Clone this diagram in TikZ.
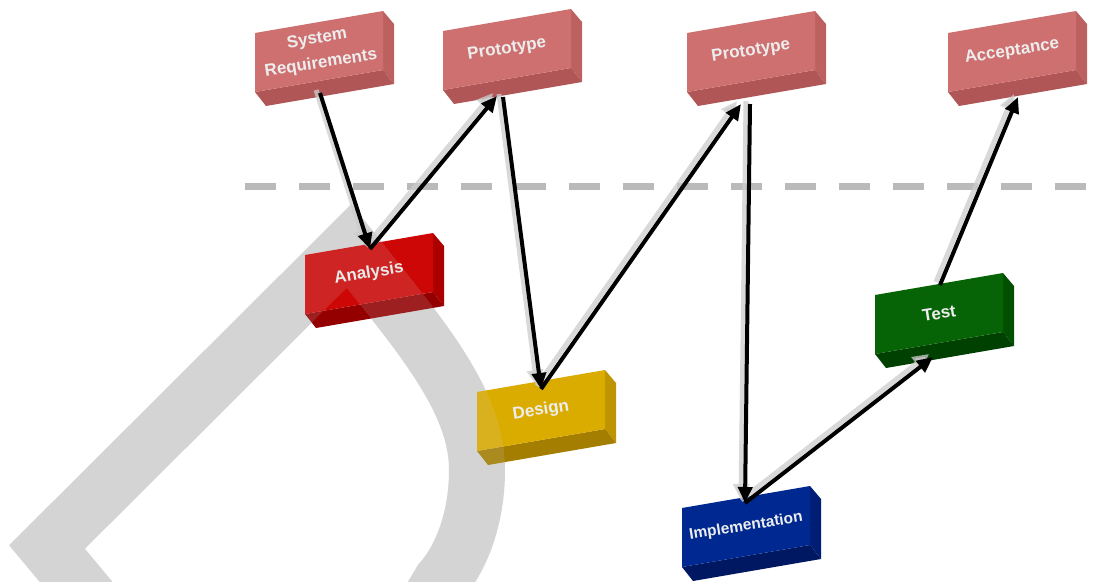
\documentclass[tikz,border=0pt]{standalone}
\usepackage{fontspec}
\setmainfont{Liberation Sans}
\usetikzlibrary{arrows.meta,calc}

% block colours: face, right side, underside
\definecolor{pinkF}{RGB}{206,112,112}
\definecolor{pinkS}{RGB}{188,96,96}
\definecolor{pinkB}{RGB}{176,86,86}
\definecolor{redF}{RGB}{205,6,6}
\definecolor{redS}{RGB}{172,0,0}
\definecolor{redB}{RGB}{148,0,0}
\definecolor{goldF}{RGB}{218,172,0}
\definecolor{goldS}{RGB}{190,148,0}
\definecolor{goldB}{RGB}{164,126,0}
\definecolor{navyF}{RGB}{0,40,145}
\definecolor{navyS}{RGB}{0,30,118}
\definecolor{navyB}{RGB}{0,24,98}
\definecolor{greenF}{RGB}{6,100,6}
\definecolor{greenS}{RGB}{0,80,0}
\definecolor{greenB}{RGB}{0,64,0}
\definecolor{bandgray}{RGB}{212,212,212}
\definecolor{guidegray}{RGB}{186,186,186}

\tikzset{
  lbl/.style={text=white!93!black, font=\bfseries\fontsize{17}{25}\selectfont,
              rotate=9, align=center, inner sep=0pt},
  flow/.style={line width=4pt, black, -{Triangle[length=16pt,width=14pt]}},
  shine/.style={line width=5pt, black!20, opacity=0.75,
                -{Triangle[length=16pt,width=16pt]},
                transform canvas={xshift=-4pt,yshift=3pt}},
  band/.style={line width=56pt, bandgray, line join=miter},
  guide/.style={line width=7pt, guidegray, dash pattern=on 31pt off 23pt},
}

% a tilted block: #1 name, #2 top-left corner, #3 face, #4 side, #5 underside, #6 label
\newcommand{\cuboid}[6]{%
  \coordinate (#1-tl) at #2;
  \coordinate (#1-tr) at ($(#1-tl)+(128,-22)$);
  \coordinate (#1-br) at ($(#1-tr)+(0,59)$);
  \coordinate (#1-bl) at ($(#1-tl)+(0,59)$);
  \fill[#4] (#1-tr) -- ($(#1-tr)+(11,13)$) -- ($(#1-br)+(11,14)$) -- (#1-br) -- cycle;
  \fill[#5] (#1-bl) -- (#1-br) -- ($(#1-br)+(11,14)$) -- ($(#1-bl)+(11,14)$) -- cycle;
  \fill[#3] (#1-tl) -- (#1-tr) -- (#1-br) -- (#1-bl) -- cycle;
  \node[lbl] (#1) at ($(#1-tl)!0.5!(#1-br)$) {#6};
}

\newcommand{\bandpath}{(107,619) -- (47,547) -- (349,246)
  .. controls (420,335) and (477,400) .. (477,470)
  .. controls (477,520) and (460,560) .. (441,581) -- (400,650)}

\begin{document}
\begin{tikzpicture}[x=1pt,y=-1pt]
\useasboundingbox (0,0) rectangle (1105,581);

% large grey loop in the background
\begin{scope}
  \clip (0,0) rectangle (1105,581);
  \draw[band] \bandpath;
\end{scope}

% blocks
\cuboid{sr}{(255,33)}{pinkF}{pinkS}{pinkB}{System\\Requirements}
\cuboid{p1}{(443,31)}{pinkF}{pinkS}{pinkB}{Prototype}
\cuboid{p2}{(687,33)}{pinkF}{pinkS}{pinkB}{Prototype}
\cuboid{ac}{(948,33)}{pinkF}{pinkS}{pinkB}{Acceptance}
\cuboid{an}{(305,255)}{redF}{redS}{redB}{Analysis}
\cuboid{de}{(477,392)}{goldF}{goldS}{goldB}{Design}
\cuboid{im}{(682,508)}{navyF}{navyS}{navyB}{\fontsize{15.5}{19}\selectfont Implementation}
\cuboid{te}{(875,295)}{greenF}{greenS}{greenB}{Test}

% the loop shows faintly across the blocks
\begin{scope}
  \clip (0,0) rectangle (1105,581);
  \draw[band, opacity=0.15] \bandpath;
\end{scope}

% dashed guide line
\coordinate (gl) at (245,186);
\coordinate (gr) at (1105,186);
\draw[guide] (gl) -- (gr);

% arrow ends on the blocks
\coordinate (sr-out) at (320,93);
\coordinate (an-in)  at (370,249);
\coordinate (p1-in)  at (497,96);
\coordinate (p1-out) at (503,97);
\coordinate (de-in)  at (541,389);
\coordinate (p2-in)  at (741,104);
\coordinate (p2-out) at (750,104);
\coordinate (im-in)  at (745,503);
\coordinate (te-in)  at (933,357);
\coordinate (te-out) at (940,285);
\coordinate (ac-in)  at (1018,97);

% soft highlights beside the arrows
\foreach \a/\b in {sr-out/an-in, an-in/p1-in, p1-out/de-in, de-in/p2-in,
                   p2-out/im-in, im-in/te-in, te-out/ac-in}
  \draw[shine] (\a) -- (\b);

% arrows
\draw[flow] (sr-out) -- (an-in);
\draw[flow] (an-in)  -- (p1-in);
\draw[flow] (p1-out) -- (de-in);
\draw[flow] (de-in)  -- (p2-in);
\draw[flow] (p2-out) -- (im-in);
\draw[flow] (im-in)  -- (te-in);
\draw[flow] (te-out) -- (ac-in);
\end{tikzpicture}
\end{document}
